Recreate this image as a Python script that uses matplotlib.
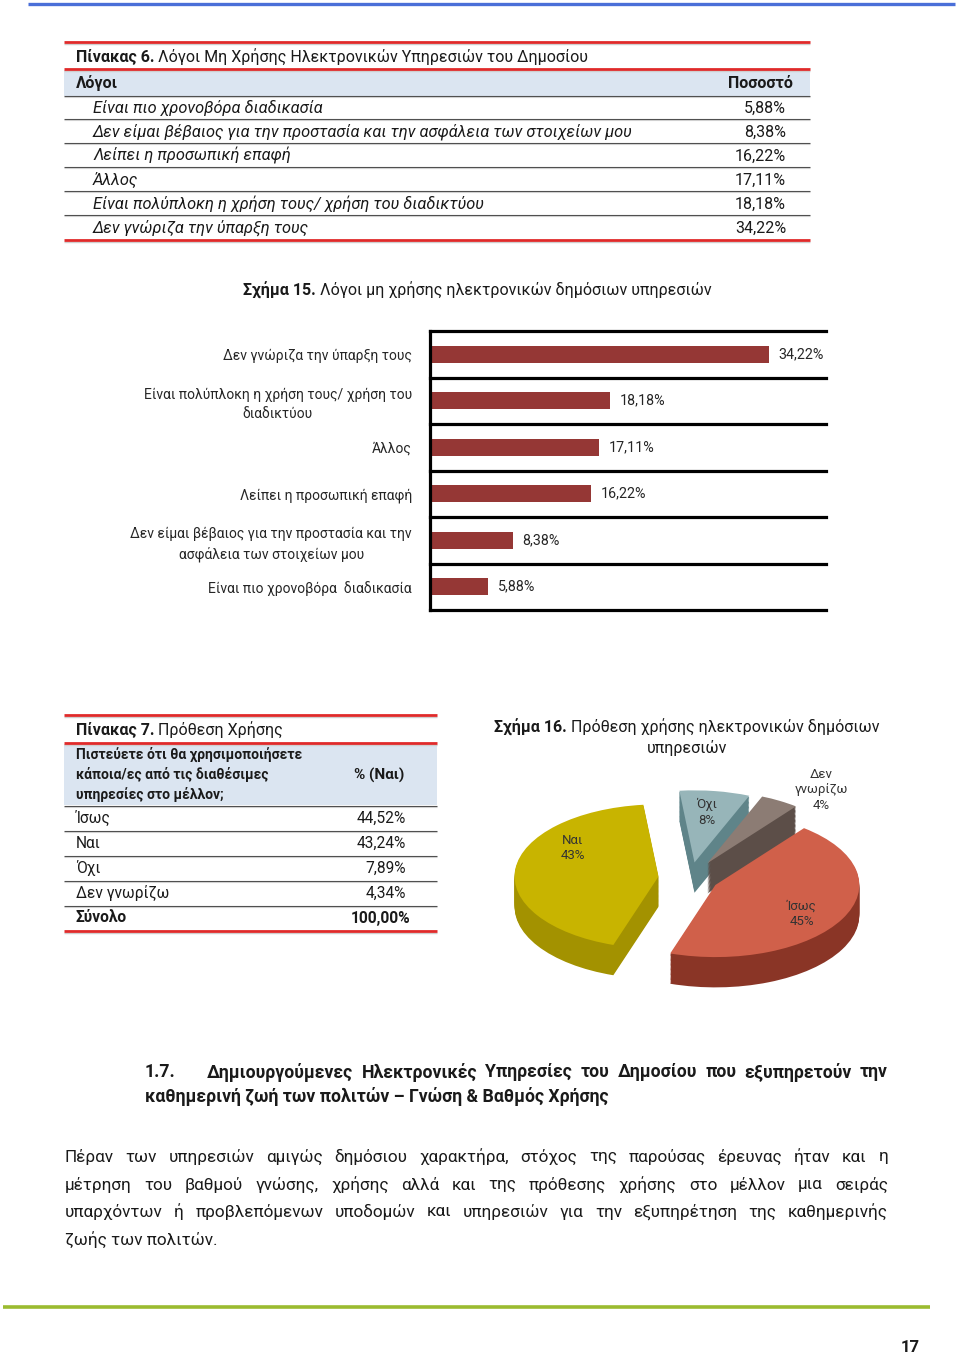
import numpy as np
import matplotlib
matplotlib.use("Agg")
import matplotlib.pyplot as plt
from matplotlib.patches import Rectangle

W, H = 960, 1355

reasons = ["Είναι πιο χρονοβόρα διαδικασία",
           "Δεν είμαι βέβαιος για την προστασία και την ασφάλεια των στοιχείων μου",
           "Λείπει η προσωπική επαφή",
           "Άλλος",
           "Είναι πολύπλοκη η χρήση τους/ χρήση του διαδικτύου",
           "Δεν γνώριζα την ύπαρξη τους"]
reason_pct = [5.88, 8.38, 16.22, 17.11, 18.18, 34.22]
bar_labels = ["Είναι πιο χρονοβόρα  διαδικασία",
              "Δεν είμαι βέβαιος για την προστασία και την\nασφάλεια των στοιχείων μου",
              "Λείπει η προσωπική επαφή",
              "Άλλος",
              "Είναι πολύπλοκη η χρήση τους/ χρήση του\nδιαδικτύου",
              "Δεν γνώριζα την ύπαρξη τους"]

intent_labels = ["Ίσως", "Ναι", "Όχι", "Δεν γνωρίζω"]
intent_pct = [44.52, 43.24, 7.89, 4.34]
intent_total = 100.00
pie_top = ["#d0604a", "#c8b400", "#97b5b9", "#8c7c74"]
pie_side = ["#8a3526", "#a39200", "#5f8489", "#5c4e48"]
# small nudges for the in-slice labels (data units of the pie axes)
label_nudge = [(0.07, -0.12), (0.0, 0.33), (0.0, 0.1), (0.0, 0.0)]

para = ["Πέραν των υπηρεσιών αμιγώς δημόσιου χαρακτήρα, στόχος της παρούσας έρευνας ήταν και η",
        "μέτρηση του βαθμού γνώσης, χρήσης αλλά και της πρόθεσης χρήσης στο μέλλον μια σειράς",
        "υπαρχόντων ή προβλεπόμενων υποδομών και υπηρεσιών για την εξυπηρέτηση της καθημερινής",
        "ζωής των πολιτών."]

plt.rcParams["font.family"] = ["Roboto", "DejaVu Sans"]
TXT = "#1a1a1a"

fig = plt.figure(figsize=(W / 100, H / 100), dpi=100)
R = fig.canvas.get_renderer()
pg = fig.add_axes([0, 0, 1, 1])
pg.set_xlim(0, W); pg.set_ylim(H, 0); pg.axis("off")


def fmt(v):
    return f"{v:.2f}".replace(".", ",") + "%"


def width(t):
    return t.get_window_extent(renderer=R).width


def put(x, y, s, size, **kw):
    kw.setdefault("color", TXT)
    return pg.text(x, y, s, fontsize=size, va="center", **kw)


def rich(x, y, parts, size, ha="left"):
    ts, cx = [], x
    for s, wt in parts:
        t = put(cx, y, s, size, weight=wt)
        cx += width(t)
        ts.append(t)
    if ha == "center":
        off = (cx - x) / 2
        for t in ts:
            t.set_x(t.get_position()[0] - off)


def justify(x0, x1, y, line, size, weight="normal"):
    words = line.split()
    ts = [put(0, y, w, size, weight=weight) for w in words]
    ws = [width(t) for t in ts]
    gap = (x1 - x0 - sum(ws)) / (len(words) - 1)
    x = x0
    for t, w in zip(ts, ws):
        t.set_x(x)
        x += w + gap


def hline(x0, x1, y, color, lw):
    pg.plot([x0, x1], [y, y], color=color, lw=lw, solid_capstyle="butt")


def red_rule(x0, x1, y):
    hline(x0, x1, y + 1.8, "#cfcfcf", 1.0)
    hline(x0, x1, y, "#e02a2a", 2.0)


def sep_rule(x0, x1, y):
    hline(x0, x1, y + 1.2, "#d8d8d8", 0.8)
    hline(x0, x1, y, "#505050", 0.8)


# page decorations
pg.plot([28, 955], [4, 4], color="#4a6fd8", lw=2.4, solid_capstyle="butt")
pg.plot([3, 930], [1307, 1307], color="#9bbb30", lw=2.6, solid_capstyle="butt")
put(910, 1348, "17", 12, weight="bold", ha="center")

# ---- table 6
T6L, T6R = 64, 810
red_rule(T6L, T6R, 42)
rich(76, 57, [("Πίνακας 6.", "bold"), (" Λόγοι Μη Χρήσης Ηλεκτρονικών Υπηρεσιών του Δημοσίου", "normal")], 11.5)
pg.add_patch(Rectangle((T6L, 70), T6R - T6L, 26, color="#dbe5f1", lw=0))
red_rule(T6L, T6R, 69)
put(76, 83, "Λόγοι", 11.5, weight="bold")
put(793, 83, "Ποσοστό", 11.5, weight="bold", ha="right")
row_y = [108, 132, 156, 180, 204, 228]
for i, (r, v) in enumerate(zip(reasons, reason_pct)):
    put(93, row_y[i], r, 11.8, style="italic")
    put(786, row_y[i], fmt(v), 11.5, ha="right")
for y in [96, 119, 143, 167, 191, 215]:
    sep_rule(T6L, T6R, y)
red_rule(T6L, T6R, 240)

# ---- bar chart (figure 15)
rich(243, 290, [("Σχήμα 15.", "bold"), (" Λόγοι μη χρήσης ηλεκτρονικών δημόσιων υπηρεσιών", "normal")], 11.5)
bx = fig.add_axes([430 / W, 1 - 610 / H, 396 / W, 279 / H])
pos = np.arange(len(reason_pct))
bars = bx.barh(pos, reason_pct, height=0.37, color="#953735")
bx.set_xlim(0, 40)
bx.set_ylim(-0.5, len(reason_pct) - 0.5)
for b in np.arange(-0.5, len(reason_pct)):
    bx.axhline(b, color="black", lw=2.3, clip_on=False, zorder=3)
for s in ["top", "right", "bottom"]:
    bx.spines[s].set_visible(False)
bx.spines["left"].set_linewidth(2.3)
bx.set_xticks([])
bx.set_yticks(pos, bar_labels, fontsize=10, color="#262626")
for lbl in bx.get_yticklabels():
    lbl.set_multialignment("center")
    lbl.set_linespacing(1.45)
bx.tick_params(axis="y", length=0, pad=13)
bx.bar_label(bars, labels=[fmt(v) for v in reason_pct], padding=7, fontsize=10.3, color="#262626")
bx.patch.set_alpha(0)

# ---- table 7
T7L, T7R = 64, 437
red_rule(T7L, T7R, 715)
rich(76, 730, [("Πίνακας 7.", "bold"), (" Πρόθεση Χρήσης", "normal")], 11.5)
pg.add_patch(Rectangle((T7L, 744), T7R - T7L, 61, color="#dbe5f1", lw=0))
red_rule(T7L, T7R, 743)
for y, s in zip([754, 774, 795], ["Πιστεύετε ότι θα χρησιμοποιήσετε",
                                   "κάποια/ες από τις διαθέσιμες",
                                   "υπηρεσίες στο μέλλον;"]):
    put(76, y, s, 10, weight="bold")
put(379, 775, "% (Ναι)", 11, weight="bold", ha="center")
t7_y = [818, 843, 868, 893]
for y, lab, v in zip(t7_y, intent_labels, intent_pct):
    put(76, y, lab, 11.2)
    put(406, y, fmt(v), 11.2, ha="right")
put(76, 918, "Σύνολο", 11.2, weight="bold")
put(410, 918, fmt(intent_total), 11.2, weight="bold", ha="right")
for y in [806, 831, 856, 881, 906]:
    sep_rule(T7L, T7R, y)
red_rule(T7L, T7R, 931)

# ---- pie (figure 16)
rich(687, 727, [("Σχήμα 16.", "bold"), (" Πρόθεση χρήσης ηλεκτρονικών δημόσιων", "normal")], 11.5, ha="center")
put(687, 748, "υπηρεσιών", 11.5, ha="center")
px = fig.add_axes([500 / W, 1 - 995 / H, 380 / W, 225 / H])
explode = [0.2, 0.22, 0.22, 0.24]
depth, steps = 0.42, 24
for k in range(steps, 0, -1):
    px.pie(intent_pct, explode=explode, colors=pie_side, startangle=52,
           counterclock=False, center=(0, -depth * k / steps), wedgeprops=dict(linewidth=0))
wedges, _ = px.pie(intent_pct, explode=explode, colors=pie_top, startangle=52,
                   counterclock=False, center=(0, 0), wedgeprops=dict(linewidth=0))
px.set_aspect("auto")
px.set_xlim(-1.32, 1.32)
px.set_ylim(-1.62, 1.5)
for w, lab, v, (nx, ny) in zip(wedges, intent_labels, intent_pct, label_nudge):
    mid = np.deg2rad((w.theta1 + w.theta2) / 2)
    cx, cy = w.center
    s = lab.replace(" ", "\n") + f"\n{v:.0f}%"
    kw = dict(ha="center", va="center", fontsize=9.5, color="#333333", linespacing=1.25)
    if v < 5:
        px.annotate(s, xy=(cx + np.cos(mid), cy + np.sin(mid)), xytext=(30, 8),
                    textcoords="offset points", **kw)
    else:
        px.text(cx + 0.6 * np.cos(mid) + nx, cy + 0.6 * np.sin(mid) + ny, s, **kw)

# ---- section 1.7
put(145, 1072, "1.7.", 12.7, weight="bold")
justify(207, 888, 1072, "Δημιουργούμενες Ηλεκτρονικές Υπηρεσίες του Δημοσίου που εξυπηρετούν την", 12.7, "bold")
put(145, 1097, "καθημερινή ζωή των πολιτών – Γνώση & Βαθμός Χρήσης", 12.7, weight="bold")
for y, line in zip([1157, 1185, 1212], para[:3]):
    justify(65, 888, y, line, 12.3)
put(65, 1240, para[3], 12.3)

fig.savefig("out.png", dpi=100)
